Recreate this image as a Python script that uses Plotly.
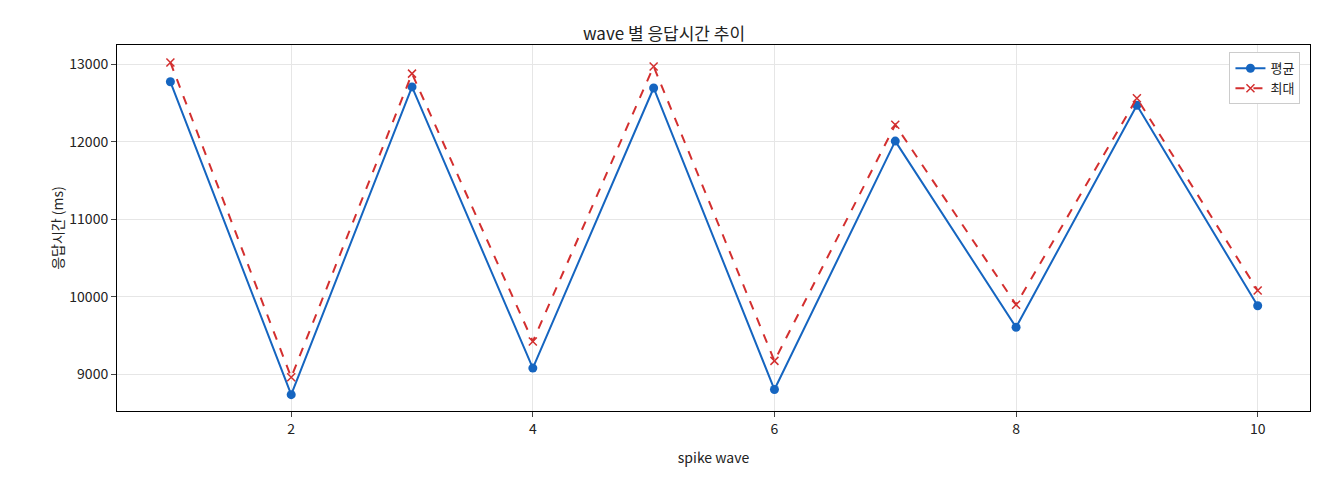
import plotly.graph_objects as go

waves = [1, 2, 3, 4, 5, 6, 7, 8, 9, 10]
avg_ms = [12776, 8736, 12710, 9079, 12696, 8802, 12010, 9607, 12472, 9884]
max_ms = [13026, 8960, 12881, 9422, 12974, 9172, 12221, 9898, 12564, 10082]

fig = go.Figure()
fig.add_trace(go.Scatter(x=waves, y=avg_ms, name="평균", mode="lines+markers",
                         line=dict(color="#1565c0", width=2), marker=dict(size=9, color="#1565c0")))
fig.add_trace(go.Scatter(x=waves, y=max_ms, name="최대", mode="lines+markers",
                         line=dict(color="#d32f2f", width=2, dash="dash"),
                         marker=dict(symbol="x-thin", size=8, line=dict(width=1.5, color="#d32f2f"), color="#d32f2f")))
fig.update_layout(
    width=1312, height=472, template="none",
    font=dict(family="Noto Sans CJK KR", size=14, color="#222"),
    title=dict(text="wave 별 응답시간 추이", x=0.5, xanchor="center", y=0.945, yanchor="middle", font=dict(size=17)),
    margin=dict(l=109, r=10, t=37, b=69),
    plot_bgcolor="white", paper_bgcolor="white",
    legend=dict(x=0.992, y=0.98, xanchor="right", yanchor="top", bordercolor="#ccc", borderwidth=1,
                bgcolor="white", font=dict(size=13)),
    xaxis=dict(title=dict(text="spike wave", font=dict(size=14)), range=[0.558, 10.433],
               tickvals=[2, 4, 6, 8, 10], showgrid=True, gridcolor="#e6e6e6", showline=True, mirror=True,
               linecolor="black", ticks="outside", zeroline=False),
    yaxis=dict(title=dict(text="응답시간 (ms)", font=dict(size=14)), range=[8525, 13251],
               tickvals=[9000, 10000, 11000, 12000, 13000], tickformat="d", showgrid=True, gridcolor="#e6e6e6",
               showline=True, mirror=True, linecolor="black", ticks="outside", zeroline=False),
)
fig.write_html("out.html")
